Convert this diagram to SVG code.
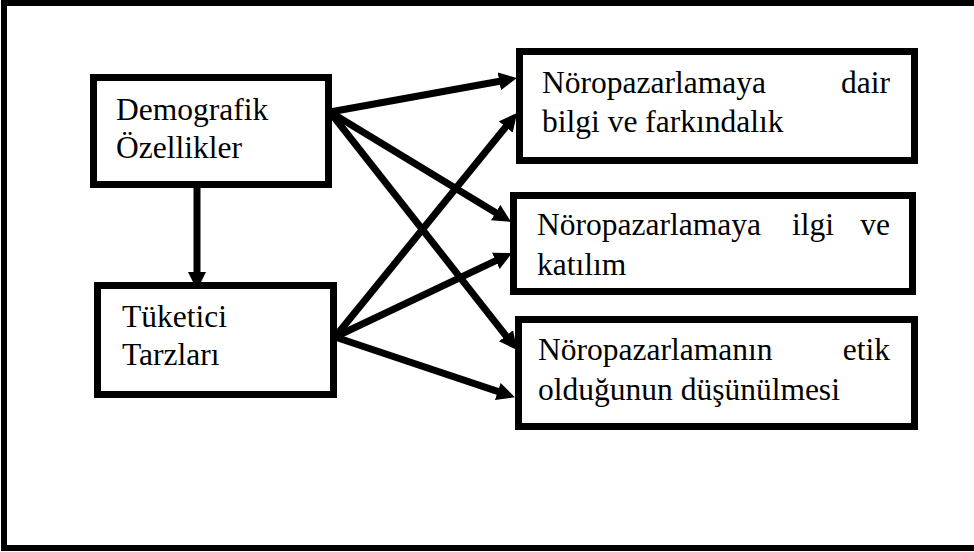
<svg xmlns="http://www.w3.org/2000/svg" width="974" height="552" viewBox="0 0 974 552">
<style>
.box{fill:#fff;stroke:#000;stroke-width:7}
.t{font-family:"Liberation Serif","Times New Roman",serif;font-size:31.5px;fill:#000}
.e{text-anchor:end}
.c{stroke:#000;stroke-width:7;fill:none;marker-end:url(#ah)}
</style>
<defs>
<marker id="ah" markerUnits="userSpaceOnUse" markerWidth="20" markerHeight="20" refX="6" refY="9" orient="auto" viewBox="0 0 20 20">
<path d="M0,0 L18,9 L0,18 z" fill="#000"/>
</marker>
</defs>
<rect x="0" y="0" width="974" height="552" fill="#fff"/>
<rect x="4" y="3" width="1000" height="545" fill="none" stroke="#000" stroke-width="6"/>
<g id="connectors">
<line class="c" x1="197" y1="188" x2="197" y2="278"/>
<line class="c" x1="330" y1="112" x2="505.2" y2="80.2"/>
<line class="c" x1="330" y1="112" x2="500.8" y2="215.7"/>
<line class="c" x1="330" y1="112" x2="509.7" y2="340.5"/>
<line class="c" x1="335" y1="337" x2="509.5" y2="122.3"/>
<line class="c" x1="335" y1="337" x2="501.2" y2="258.2"/>
<line class="c" x1="335" y1="337" x2="503.5" y2="393.4"/>
</g>
<g id="demografik">
<rect class="box" x="93.5" y="77.5" width="235" height="107"/>
<text class="t" x="116" y="120">Demografik</text>
<text class="t" x="116" y="158">Özellikler</text>
</g>
<g id="tuketici">
<rect class="box" x="97.5" y="285.5" width="236" height="109"/>
<text class="t" x="122" y="327">Tüketici</text>
<text class="t" x="122" y="365">Tarzları</text>
</g>
<g id="bilgi">
<rect class="box" x="519.5" y="51.5" width="395" height="109"/>
<text class="t" x="542" y="93">Nöropazarlamaya</text>
<text class="t e" x="890" y="93">dair</text>
<text class="t" x="542" y="132">bilgi ve farkındalık</text>
</g>
<g id="ilgi">
<rect class="box" x="513.5" y="195.5" width="399" height="96"/>
<text class="t" x="537" y="235">Nöropazarlamaya</text>
<text class="t" x="792" y="235">ilgi</text>
<text class="t e" x="890" y="235">ve</text>
<text class="t" x="537" y="275">katılım</text>
</g>
<g id="etik">
<rect class="box" x="518.5" y="319.5" width="396" height="107"/>
<text class="t" x="538" y="360">Nöropazarlamanın</text>
<text class="t e" x="890" y="360">etik</text>
<text class="t" x="538" y="400">olduğunun düşünülmesi</text>
</g>
</svg>
